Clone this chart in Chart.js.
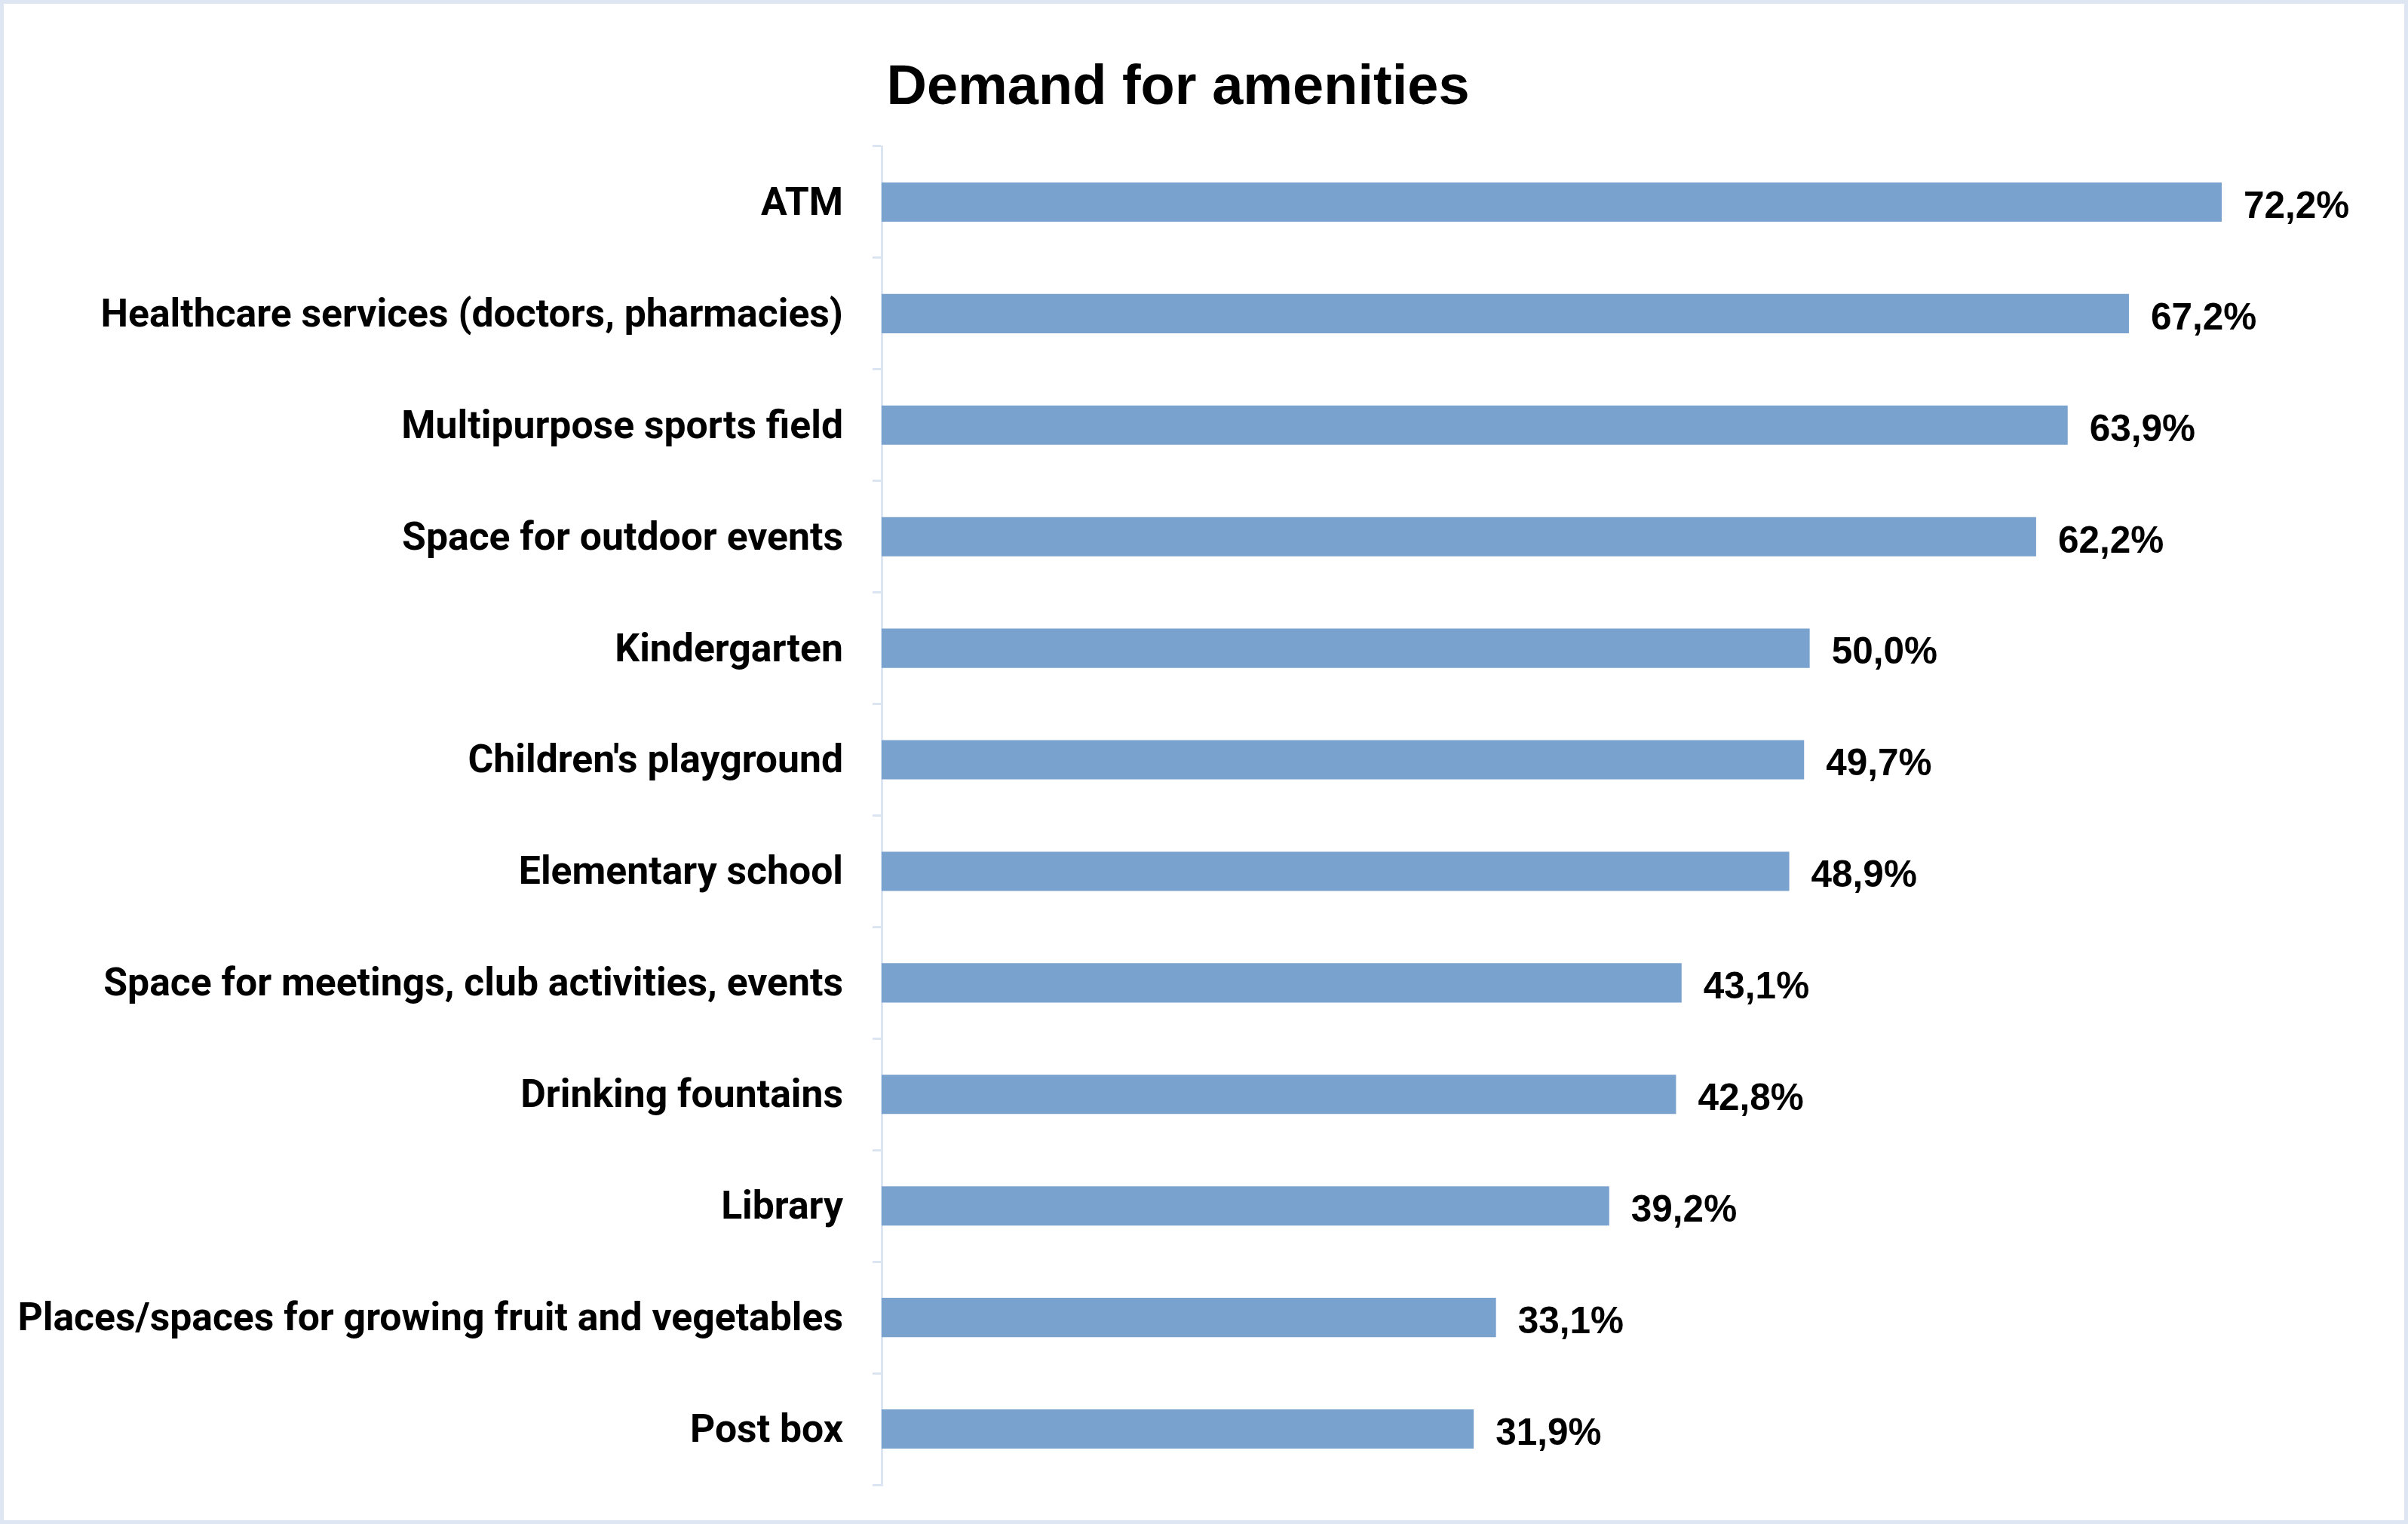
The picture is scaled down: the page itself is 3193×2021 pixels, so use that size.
<!DOCTYPE html>
<html>
<head>
<meta charset="utf-8">
<script src="https://cdn.jsdelivr.net/npm/chart.js@4.4.1/dist/chart.umd.min.js"></script>
<style>
  html, body { margin: 0; padding: 0; background: #ffffff; }
  #wrap { width: 3193px; height: 2021px; }
</style>
</head>
<body>
<div id="wrap"><canvas id="c" width="3193" height="2021"></canvas></div>
<script>
const chartTitle = "Demand for amenities";
const categories = [
  "ATM",
  "Healthcare services (doctors, pharmacies)",
  "Multipurpose sports field",
  "Space for outdoor events",
  "Kindergarten",
  "Children's playground",
  "Elementary school",
  "Space for meetings, club activities, events",
  "Drinking fountains",
  "Library",
  "Places/spaces for growing fruit and vegetables",
  "Post box"
];
const values = [72.2, 67.2, 63.9, 62.2, 50.0, 49.7, 48.9, 43.1, 42.8, 39.2, 33.1, 31.9];
const xMin = 0;
const xMax = 80;

const formatPct = v => v.toFixed(1).replace('.', ',') + '%';

// size the category font so a reference label matches the reference width
const LABEL_FAMILY = 'Roboto, "Noto Sans", sans-serif';
const probeCtx = document.createElement('canvas').getContext('2d');
probeCtx.font = 'bold 100px ' + LABEL_FAMILY;
const probeW = probeCtx.measureText(categories[1]).width;
const labelSize = Math.round(100 * 985 / probeW * 10) / 10;

const backgroundPlugin = {
  id: 'bgBorder',
  beforeDraw(chart) {
    const ctx = chart.ctx;
    ctx.save();
    ctx.fillStyle = '#ffffff';
    ctx.fillRect(0, 0, chart.width, chart.height);
    ctx.strokeStyle = '#dde6f2';
    ctx.lineWidth = 5;
    ctx.strokeRect(2.5, 2.5, chart.width - 5, chart.height - 5);
    ctx.restore();
  }
};

const titlePlugin = {
  id: 'customTitle',
  afterDraw(chart) {
    const ctx = chart.ctx;
    ctx.save();
    ctx.font = 'bold 74px "Liberation Sans", Arial, sans-serif';
    ctx.fillStyle = '#000000';
    ctx.textAlign = 'center';
    ctx.textBaseline = 'alphabetic';
    ctx.fillText(chartTitle, 1562, 138);
    ctx.restore();
  }
};

const valueLabels = {
  id: 'valueLabels',
  afterDatasetsDraw(chart) {
    const ctx = chart.ctx;
    const meta = chart.getDatasetMeta(0);
    const size = 49.5;
    ctx.save();
    ctx.font = 'bold ' + size + 'px "Liberation Sans", Arial, sans-serif';
    ctx.fillStyle = '#000000';
    ctx.textAlign = 'left';
    ctx.textBaseline = 'alphabetic';
    meta.data.forEach((el, i) => {
      ctx.fillText(formatPct(values[i]), el.x + 29, el.y + 0.36 * size + 3);
    });
    ctx.restore();
  }
};

new Chart(document.getElementById('c'), {
  type: 'bar',
  data: {
    labels: categories,
    datasets: [{
      data: values,
      backgroundColor: '#79a2ce',
      borderWidth: 0,
      categoryPercentage: 1.0,
      barPercentage: 0.352
    }]
  },
  options: {
    indexAxis: 'y',
    responsive: false,
    devicePixelRatio: 1,
    animation: false,
    layout: { padding: { left: 20, right: 55, top: 194, bottom: 52 } },
    plugins: {
      legend: { display: false },
      tooltip: { enabled: false },
      title: { display: false }
    },
    scales: {
      x: {
        display: false,
        min: xMin,
        max: xMax
      },
      y: {
        afterFit(scale) {
          scale.width = 1149;
          scale.paddingTop = 0;
          scale.paddingBottom = 0;
        },
        grid: {
          offset: true,
          drawOnChartArea: false,
          drawTicks: true,
          tickLength: 12,
          color: '#dce6f2',
          lineWidth: 3
        },
        border: { display: true, color: '#dce6f2', width: 3 },
        ticks: {
          color: '#000000',
          padding: 39,
          labelOffset: 4,
          font: { family: LABEL_FAMILY, size: labelSize, weight: 'bold' }
        }
      }
    }
  },
  plugins: [backgroundPlugin, valueLabels, titlePlugin]
});
</script>
</body>
</html>
